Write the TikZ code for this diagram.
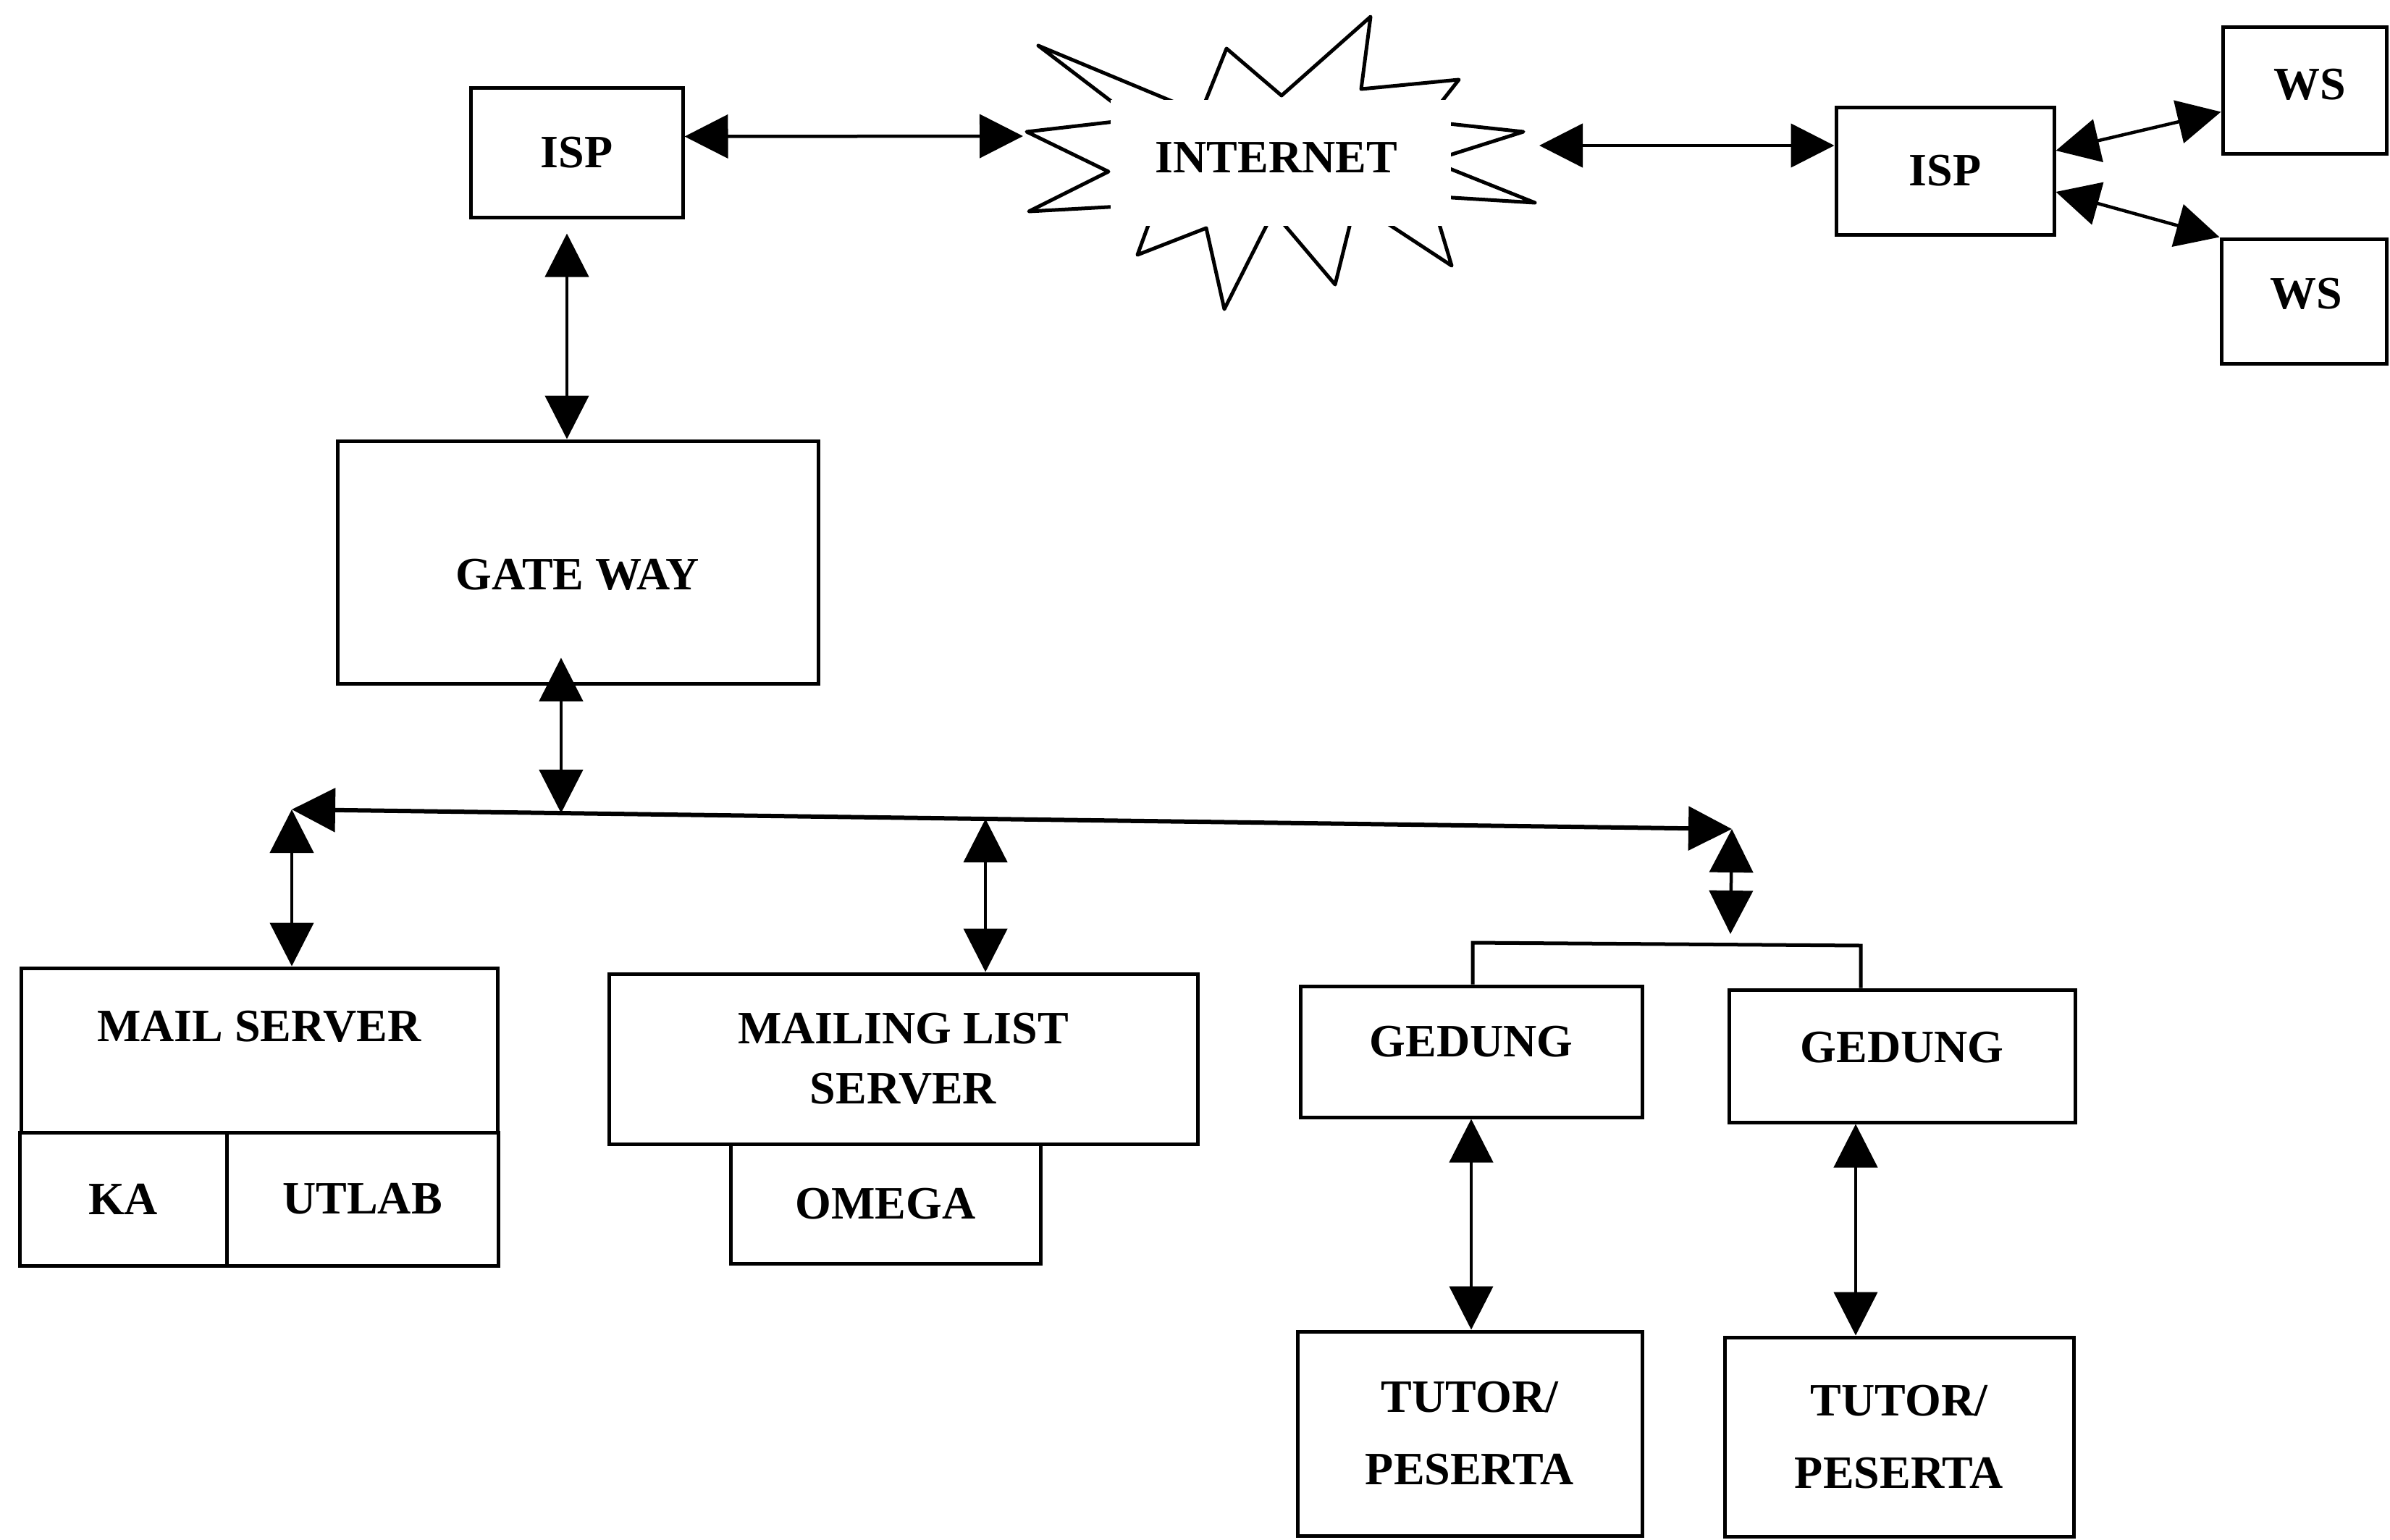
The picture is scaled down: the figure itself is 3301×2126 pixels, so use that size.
\documentclass[tikz,border=0pt]{standalone}
\usepackage{fontspec}
\setmainfont{Liberation Serif}
\usetikzlibrary{arrows.meta,calc}
\begin{document}
\begin{tikzpicture}[x=1pt,y=-1pt,
  font=\bfseries\fontsize{64}{80}\selectfont,
  box/.style={draw,line width=5pt,inner sep=0pt,align=center},
  biarrow/.style={line width=4.5pt,{Triangle[length=60pt,width=60pt]}-{Triangle[length=60pt,width=60pt]}},
  twoline/.style={font=\bfseries\fontsize{64}{#1}\selectfont}
]
\useasboundingbox (0,0) rectangle (3301,2126);

% INTERNET explosion (inner corners hidden by the white text area)
\draw[line width=5pt,line join=round]
  (1548,150) -- (1434,63) -- (1648,152) -- (1660,152) -- (1694,67) -- (1770,132)
  -- (1893,23) -- (1880,123) -- (2015,110) -- (1982,152) -- (1992,170) -- (2104,182)
  -- (1990,218) -- (1990,228) -- (2120,280) -- (1990,272) -- (1985,300) -- (2005,367)
  -- (1903,300) -- (1867,300) -- (1844,393) -- (1765,300) -- (1755,300) -- (1691,427)
  -- (1666,315) -- (1571,352) -- (1590,300) -- (1548,285) -- (1421,292) -- (1531,237)
  -- (1418,182) -- (1548,167) -- cycle;
\node[fill=white,inner sep=0pt,minimum width=470pt,minimum height=174pt] (inet) at (1769,225) {};
\node (inettext) at (1763,218) {INTERNET};

% boxes
\node[box,minimum width=293pt,minimum height=179pt] (isp1) at (796.5,210.5) {ISP};
\node[box,minimum width=664pt,minimum height=335pt,label={[yshift=-17pt]center:GATE WAY}] (gw) at (798,776.5) {};
\node[box,minimum width=301pt,minimum height=176pt] (isp2) at (2686.5,236) {ISP};
\node[box,minimum width=226pt,minimum height=175pt,label={[xshift=7pt,yshift=8pt]center:WS}] (ws1) at (3183,124.5) {};
\node[box,minimum width=228pt,minimum height=172pt,label={[xshift=3pt,yshift=10pt]center:WS}] (ws2) at (3182,416) {};
\node[box,minimum width=658pt,minimum height=227pt,label={[yshift=33pt]center:MAIL SERVER}] (mail) at (358,1450.5) {};
\node[box,minimum width=286pt,minimum height=184pt] (ka) at (170,1656) {KA};
\node[box,minimum width=375pt,minimum height=184pt] (utlab) at (500.5,1656) {UTLAB};
\node[box,twoline=83,minimum width=813pt,minimum height=235pt] (mls) at (1247.5,1462.5) {MAILING LIST\\SERVER};
\node[box,minimum width=428pt,minimum height=165pt] (omega) at (1223,1662.5) {OMEGA};
\node[box,minimum width=472pt,minimum height=181pt,label={[yshift=14pt]center:GEDUNG}] (g1) at (2032,1452.5) {};
\node[box,minimum width=478pt,minimum height=183pt,label={[yshift=12pt]center:GEDUNG}] (g2) at (2627,1458.5) {};
\node[box,twoline=100,minimum width=476pt,minimum height=282pt] (t1) at (2030,1980) {TUTOR/\\PESERTA};
\node[box,twoline=100,minimum width=482pt,minimum height=275pt] (t2) at (2623,1984.5) {TUTOR/\\PESERTA};

% top connectors
\coordinate (inetL) at (1413,188);
\coordinate (inetR) at (2126,201);
\draw[biarrow] ([yshift=22pt]isp1.east) -- (inetL);
\draw[biarrow] (inetR) -- (inetR -| isp2.west);
\draw[biarrow] ([yshift=28pt]isp2.east) -- ([yshift=-30pt]ws1.west);
\draw[biarrow] ([yshift=-29pt]isp2.east) -- (ws2.north west);

\coordinate (a1) at (783,0);
\draw[biarrow,shorten <=20pt] (a1 |- isp1.south) -- (a1 |- gw.north);

% bus
\coordinate (busL) at (403,1118);
\coordinate (busR) at (2392,1145);
\draw[biarrow,line width=6pt] (busL) -- (busR);
\coordinate (gwB) at ($(busL)!0.187!(busR)$);
\path (gwB |- gw.south) ++(0,-38) coordinate (gwT);
\draw[biarrow] (gwT) -- (gwB);
\draw[biarrow] (busL) -- (busL |- mail.north);
\coordinate (mlsB) at ($(busL)!0.4817!(busR)$);
\draw[biarrow] (mlsB) -- (mlsB |- mls.north);
\coordinate (brk) at (2390,1290);
\draw[biarrow] (busR) -- (brk);

% bracket to buildings
\coordinate (bL) at (2034,1302);
\coordinate (bR) at (2570,1306);
\draw[line width=5pt] (bL |- g1.north) -- (bL) -- (bR) -- (bR |- g2.north);

% buildings to tutors
\draw[biarrow] (g1.south) -- (g1.south |- t1.north);
\coordinate (a2) at (2563,0);
\draw[biarrow] (a2 |- g2.south) -- (a2 |- t2.north);
\end{tikzpicture}
\end{document}
